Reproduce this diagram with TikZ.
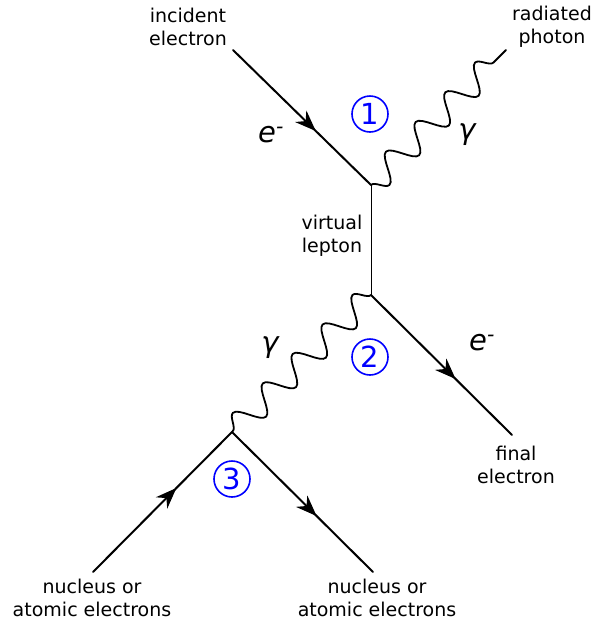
\documentclass[tikz,border=0pt]{standalone}
\usepackage{fontspec}
\setmainfont{DejaVu Sans}
\usetikzlibrary{arrows.meta,decorations.pathmorphing,decorations.markings}

\begin{document}
\begin{tikzpicture}[x=1pt, y=-1pt, line cap=round,
  fermion/.style={line width=2pt, postaction={decorate},
    decoration={markings, mark=at position 0.6 with {\arrow{Stealth[length=21pt,width=16pt]}}}},
  photon/.style={line width=1.8pt, decorate,
    decoration={snake, segment length=42pt, amplitude=-13pt}},
  lbl/.style={align=center, font=\fontsize{19}{23}\selectfont},
  num/.style={circle, draw=blue, line width=1.6pt, text=blue, inner sep=0pt,
    minimum size=36pt, font=\fontsize{29}{29}\selectfont},
  sym/.style={font=\fontsize{29}{29}\selectfont\itshape}]
  \useasboundingbox (0,0) rectangle (595,625);
  % vertices of the diagram
  \coordinate (v1) at (371,185);
  \coordinate (v2) at (371,295);
  \coordinate (v3) at (232,432);
  % free ends of the external lines
  \coordinate (inc) at (233,50);
  \coordinate (rad) at (506,50);
  \coordinate (fin) at (512,435);
  \coordinate (nucL) at (93,572);
  \coordinate (nucR) at (373,572);
  % electron lines
  \draw[fermion] (inc) -- (v1);
  \draw[fermion] (v2) -- (fin);
  \draw[fermion] (nucL) -- (v3);
  \draw[fermion] (v3) -- (nucR);
  % virtual lepton
  \draw[line width=1pt] (v1) -- (v2);
  % photons
  \draw[photon] (v1) -- (rad);
  \draw[photon] (v2) -- (v3);
  % labels
  \node[lbl] (incl) at (188,27) {incident\\electron};
  \node[lbl] (radl) at (552,27) {radiated\\photon};
  \node[lbl] (virl) at (332,236) {virtual\\lepton};
  \node[lbl] (finl) at (516,465) {final\\electron};
  \node[lbl] (nucLl) at (92,598) {nucleus or\\atomic electrons};
  \node[lbl] (nucRl) at (377,598) {nucleus or\\atomic electrons};
  % particle symbols
  \node[sym] (e1) at (271,135) {e\textsuperscript{-}};
  \node[sym] (e2) at (482,343) {e\textsuperscript{-}};
  \node[sym] (g1) at (467,135) {γ};
  \node[sym] (g2) at (270,348) {γ};
  % vertex numbers
  \node[num] (n1) at (370,114) {1};
  \node[num] (n2) at (370,357) {2};
  \node[num] (n3) at (232,479) {3};
\end{tikzpicture}
\end{document}
